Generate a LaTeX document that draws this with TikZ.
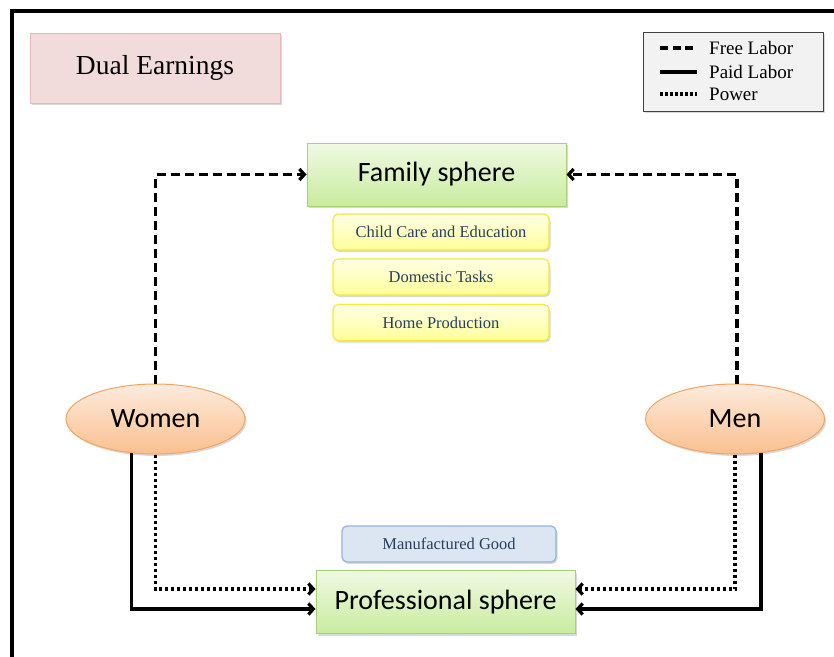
\documentclass[tikz,border=0pt]{standalone}
\usepackage{fontspec}
\setmainfont{Liberation Serif}
\newfontfamily\calibri{Carlito}
\usetikzlibrary{arrows.meta,shadows,shapes.geometric}
\definecolor{pinkfill}{HTML}{F2DCDB}
\definecolor{pinkdraw}{HTML}{E6B9B8}
\definecolor{greentop}{HTML}{F0F9E4}
\definecolor{greenbot}{HTML}{C8EC9E}
\definecolor{greendraw}{HTML}{A9D276}
\definecolor{yeltop}{HTML}{FFFFE6}
\definecolor{yelbot}{HTML}{FFFF9A}
\definecolor{yeldraw}{HTML}{F5E93A}
\definecolor{orgtop}{HTML}{FDEBDD}
\definecolor{orgbot}{HTML}{FAC08F}
\definecolor{orgdraw}{HTML}{F4A460}
\definecolor{bluefill}{HTML}{DCE6F2}
\definecolor{bluedraw}{HTML}{95B3D7}
\definecolor{navytext}{HTML}{243F60}
\definecolor{legfill}{HTML}{F2F2F2}
\definecolor{legdraw}{HTML}{404040}
\begin{document}
\begin{tikzpicture}[x=1pt,y=-1pt,
  conn/.style={line width=3.2pt,-{Straight Barb[length=5pt,width=11pt]}},
  freel/.style={conn,dash pattern=on 9pt off 5pt},
  paidl/.style={conn},
  powerl/.style={conn,dash pattern=on 3pt off 3pt},
  shade/.style={drop shadow={shadow xshift=1.5pt,shadow yshift=-2pt,opacity=0.3}},
  sphere/.style={shade,draw=greendraw,line width=1pt,top color=greentop,bottom color=greenbot,
    inner sep=0pt,minimum width=259pt,minimum height=63pt,font=\calibri\fontsize{28}{30}\selectfont},
  task/.style={shade,draw=yeldraw,line width=1.2pt,rounded corners=5pt,top color=yeltop,bottom color=yelbot,
    inner sep=0pt,minimum width=216pt,minimum height=36pt,text=navytext,font=\fontsize{16.5}{18}\selectfont},
  person/.style={ellipse,shade,draw=orgdraw,line width=1pt,top color=orgtop,bottom color=orgbot,
    inner sep=0pt,minimum width=179pt,minimum height=70pt,font=\calibri\fontsize{28}{30}\selectfont},
  legline/.style={line width=3.2pt},
  legtext/.style={anchor=west,inner sep=0pt,font=\fontsize{19}{20}\selectfont}
]
\useasboundingbox (0,0) rectangle (834,656);
% frame
\draw[line width=4pt] (12,660) -- (12,11) -- (840,11);
% title
\node[shade,draw=pinkdraw,fill=pinkfill,line width=1pt,inner sep=0pt,minimum width=250pt,minimum height=70pt,
  font=\fontsize{27.5}{30}\selectfont] (title) at (155,68) {Dual Earnings};
% legend
\node[shade,draw=legdraw,fill=legfill,line width=1pt,inner sep=0pt,minimum width=180pt,minimum height=79pt] (legend) at (733,71.5) {};
\coordinate (fa) at (660,48); \coordinate (fb) at (697,48);
\coordinate (pa) at (660,72); \coordinate (pb) at (697,72);
\coordinate (wa) at (660,94); \coordinate (wb) at (697,94);
\draw[legline,dash pattern=on 8pt off 4.5pt] (fa) -- (fb);
\draw[legline] (pa) -- (pb);
\draw[legline,dash pattern=on 2.5pt off 2.5pt] (wa) -- (wb);
\node[legtext] (lt1) at (709,48) {Free Labor};
\node[legtext] (lt2) at (709,72) {Paid Labor};
\node[legtext] (lt3) at (709,94) {Power};
% spheres
\node[sphere] (family) at (436.5,174.5) {Family sphere};
\node[sphere] (prof) at (445.5,602) {Professional sphere};
% tasks
\node[task] (child) at (441,232) {Child Care and Education};
\node[task] (dom) at (441,277) {Domestic Tasks};
\node[task] (home) at (441,322.5) {Home Production};
\node[shade,draw=bluedraw,fill=bluefill,line width=1.2pt,rounded corners=5pt,inner sep=0pt,
  minimum width=214pt,minimum height=36pt,text=navytext,font=\fontsize{16.5}{18}\selectfont] (manu) at (449,544) {Manufactured Good};
% persons
\node[person] (women) at (155.5,419) {Women};
\node[person] (men) at (735,419) {Men};
% connectors
\draw[freel] (women.north) |- (family.west);
\draw[freel] ([xshift=2pt]men.north) |- (family.east);
\draw[powerl] (women.south) |- ([yshift=13pt]prof.west);
\draw[paidl] ([xshift=-24pt,yshift=1.5pt]women.south) |- ([yshift=-7pt]prof.west);
\draw[powerl] (men.south) |- ([yshift=13pt]prof.east);
\draw[paidl] ([xshift=26pt,yshift=1.5pt]men.south) |- ([yshift=-7pt]prof.east);
\end{tikzpicture}
\end{document}
